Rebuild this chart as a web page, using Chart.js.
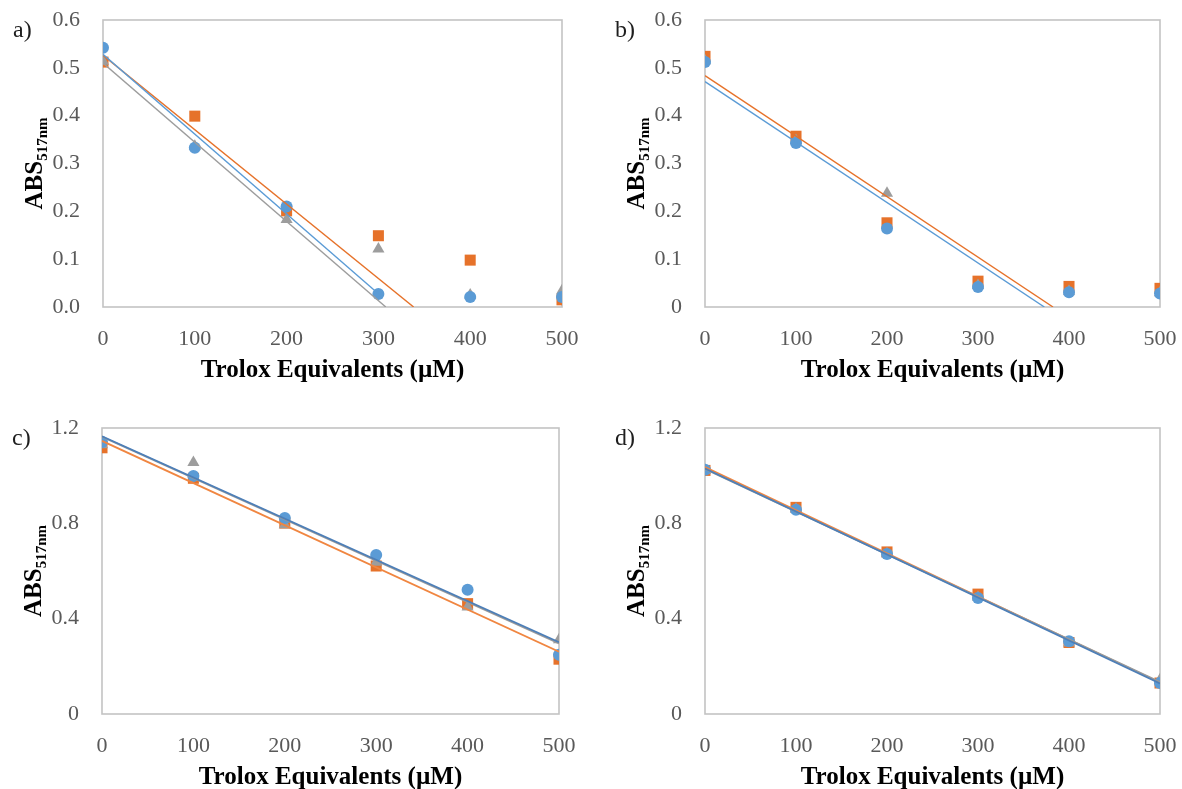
<!DOCTYPE html>
<html lang="en">
<head>
    <meta charset="UTF-8">
    <title>DPPH - Trolox Equivalents</title>
    <script src="https://cdn.jsdelivr.net/npm/chart.js"></script>
    <style>
        body { margin: 0; background: #fff; }
        #wrap { position: relative; width: 1182px; height: 789px; overflow: hidden; }
        #wrap canvas { position: absolute; }
    </style>
</head>
<body>
    <div id="wrap">
        <canvas id="chartA" width="591" height="394" style="left:0;top:0"></canvas>
        <canvas id="chartB" width="591" height="394" style="left:591px;top:0"></canvas>
        <canvas id="chartC" width="591" height="395" style="left:0;top:394px"></canvas>
        <canvas id="chartD" width="591" height="395" style="left:591px;top:394px"></canvas>
    </div>

    <script>
        // Trolox concentration (µM), shared by every panel
        const trolox = [0, 100, 200, 300, 400, 500];
        const xTicks = ['0', '100', '200', '300', '400', '500'];

        // Absorbance at 517 nm, three replicates per panel
        const aOrange = [0.512, 0.399, 0.201, 0.149, 0.098, 0.015];
        const aGray   = [0.514, 0.336, 0.183, 0.121, 0.025, 0.034];
        const aBlue   = [0.542, 0.333, 0.210, 0.027, 0.021, 0.021];

        const bOrange = [0.524, 0.357, 0.176, 0.054, 0.043, 0.039];
        const bGray   = [0.515, 0.348, 0.238, 0.045, 0.033, 0.030];
        const bBlue   = [0.512, 0.343, 0.164, 0.042, 0.031, 0.028];

        const cOrange = [1.117, 0.989, 0.801, 0.621, 0.463, 0.230];
        const cGray   = [1.130, 1.055, 0.794, 0.637, 0.449, 0.312];
        const cBlue   = [1.141, 0.999, 0.822, 0.667, 0.521, 0.249];

        const dOrange = [1.022, 0.867, 0.680, 0.503, 0.300, 0.130];
        const dGray   = [1.022, 0.860, 0.672, 0.490, 0.298, 0.144];
        const dBlue   = [1.025, 0.857, 0.671, 0.487, 0.305, 0.130];

        // trendlines: number of leading points in the fit (0 = none) and last x drawn
        // order: orange, gray, blue
        const aFitCount = [3, 3, 4];
        const aFitTo    = [500, 500, 300];
        const bFitCount = [5, 0, 5];
        const bFitTo    = [500, 500, 500];
        const cFitCount = [6, 6, 6];
        const cFitTo    = [500, 500, 500];
        const dFitCount = [6, 6, 6];
        const dFitTo    = [500, 500, 500];

        const yTicksSmallA = ['0.0', '0.1', '0.2', '0.3', '0.4', '0.5', '0.6'];
        const yTicksSmallB = ['0', '0.1', '0.2', '0.3', '0.4', '0.5', '0.6'];
        const yTicksLarge  = ['0', '0.4', '0.8', '1.2'];

        const SERIF = "'Liberation Serif', 'Times New Roman', serif";
        const ORANGE = '#e6722a';
        const GRAY = '#9d9d9d';
        const BLUE = '#5b9bd5';

        // least squares line through the first n points, stopped at x = to or at y = 0
        function trend(ys, n, to) {
            if (!n) return null;
            const xs = trolox.slice(0, n), vs = ys.slice(0, n);
            const mx = xs.reduce((s, v) => s + v, 0) / n;
            const my = vs.reduce((s, v) => s + v, 0) / n;
            let sxy = 0, sxx = 0;
            for (let i = 0; i < n; i++) {
                sxy += (xs[i] - mx) * (vs[i] - my);
                sxx += (xs[i] - mx) * (xs[i] - mx);
            }
            const m = sxy / sxx, b = my - m * mx;
            let end = to;
            if (m < 0 && -b / m < end) end = -b / m;
            return [{ x: 0, y: b }, { x: end, y: m * end + b }];
        }

        function points(ys) {
            return ys.map((y, i) => ({ x: trolox[i], y: y }));
        }

        // plot frame, panel letter, x title and the subscripted y title
        const panelDecor = {
            id: 'panelDecor',
            beforeDatasetsDraw(chart) {
                const { ctx, chartArea: a } = chart;
                ctx.save();
                ctx.strokeStyle = '#c3c3c3';
                ctx.lineWidth = 1.6;
                ctx.strokeRect(a.left, a.top, a.right - a.left, a.bottom - a.top);
                ctx.restore();
            },
            afterDraw(chart, args, opts) {
                const { ctx, chartArea: a } = chart;
                ctx.save();

                ctx.fillStyle = '#1e1e1e';
                ctx.font = '24px ' + SERIF;
                ctx.textAlign = 'left';
                ctx.textBaseline = 'middle';
                ctx.fillText(opts.letter, a.left - 90, a.top + 11);

                ctx.fillStyle = '#000';
                ctx.font = 'bold 25px ' + SERIF;
                ctx.textAlign = 'center';
                ctx.textBaseline = 'alphabetic';
                ctx.fillText('Trolox Equivalents (\u00b5M)', (a.left + a.right) / 2, a.bottom + 70);

                const bigFont = 'bold 25px ' + SERIF, subFont = 'bold 15px ' + SERIF;
                ctx.font = bigFont;
                const w1 = ctx.measureText('ABS').width;
                ctx.font = subFont;
                const w2 = ctx.measureText('517nm').width;
                ctx.translate(a.left - 61, (a.top + a.bottom) / 2);
                ctx.rotate(-Math.PI / 2);
                ctx.textAlign = 'left';
                ctx.font = bigFont;
                ctx.fillText('ABS', -(w1 + w2) / 2, 0);
                ctx.font = subFont;
                ctx.fillText('517nm', -(w1 + w2) / 2 + w1, 5);
                ctx.restore();
            }
        };

        function makePanel(id, series, fitCount, fitTo, yMax, yStep, yLabels, letter, box) {
            const colors = [ORANGE, GRAY, BLUE];
            const styles = ['rect', 'triangle', 'circle'];
            const radii = [7.8, 7, 6];
            const lineColors = box.lineColors;
            const datasets = [];

            // trendlines on top, blue above gray above orange
            for (let k = 2; k >= 0; k--) {
                const t = trend(series[k], fitCount[k], fitTo[k]);
                if (!t) continue;
                datasets.push({
                    data: t,
                    showLine: true,
                    borderColor: lineColors[k],
                    borderWidth: box.lineWidth,
                    pointRadius: 0,
                    order: 2 - k
                });
            }
            for (let k = 2; k >= 0; k--) {
                datasets.push({
                    data: points(series[k]),
                    pointStyle: styles[k],
                    pointRadius: radii[k],
                    pointBackgroundColor: colors[k],
                    pointBorderWidth: 0,
                    showLine: false,
                    order: 5 - k
                });
            }

            return new Chart(document.getElementById(id), {
                type: 'scatter',
                data: { datasets: datasets },
                options: {
                    responsive: false,
                    animation: false,
                    layout: { padding: { top: box.top, right: box.right, left: 0, bottom: 0 } },
                    plugins: {
                        legend: { display: false },
                        tooltip: { enabled: false },
                        panelDecor: { letter: letter }
                    },
                    scales: {
                        x: {
                            type: 'linear',
                            min: 0,
                            max: 500,
                            grid: { display: false, drawTicks: false },
                            border: { display: false },
                            ticks: {
                                stepSize: 100,
                                padding: 19,
                                color: '#595959',
                                font: { family: SERIF, size: 22 },
                                maxRotation: 0,
                                callback: (v, i) => xTicks[i]
                            },
                            afterFit: axis => {
                                axis.height = box.xHeight;
                                axis.paddingLeft = 0;
                                axis.paddingRight = 0;
                            }
                        },
                        y: {
                            min: 0,
                            max: yMax,
                            grid: { display: false, drawTicks: false },
                            border: { display: false },
                            ticks: {
                                stepSize: yStep,
                                padding: 23,
                                color: '#595959',
                                font: { family: SERIF, size: 22 },
                                callback: (v, i) => yLabels[i]
                            },
                            afterFit: axis => {
                                axis.width = box.yWidth;
                                axis.paddingTop = 0;
                                axis.paddingBottom = 0;
                            }
                        }
                    }
                },
                plugins: [panelDecor]
            });
        }

        const thinLines = [ORANGE, GRAY, BLUE];
        const darkLines = ['#f08641', '#9a9a9a', '#4d7fb8'];

        makePanel('chartA', [aOrange, aGray, aBlue], aFitCount, aFitTo, 0.6, 0.1, yTicksSmallA, 'a)',
            { top: 20, right: 29, yWidth: 103, xHeight: 87, lineColors: thinLines, lineWidth: 1.4 });
        makePanel('chartB', [bOrange, bGray, bBlue], bFitCount, bFitTo, 0.6, 0.1, yTicksSmallB, 'b)',
            { top: 20, right: 22, yWidth: 114, xHeight: 87, lineColors: thinLines, lineWidth: 1.4 });
        makePanel('chartC', [cOrange, cGray, cBlue], cFitCount, cFitTo, 1.2, 0.4, yTicksLarge, 'c)',
            { top: 34, right: 32, yWidth: 102, xHeight: 75, lineColors: darkLines, lineWidth: 1.8 });
        makePanel('chartD', [dOrange, dGray, dBlue], dFitCount, dFitTo, 1.2, 0.4, yTicksLarge, 'd)',
            { top: 34, right: 22, yWidth: 114, xHeight: 75, lineColors: darkLines, lineWidth: 1.8 });
    </script>
</body>
</html>
